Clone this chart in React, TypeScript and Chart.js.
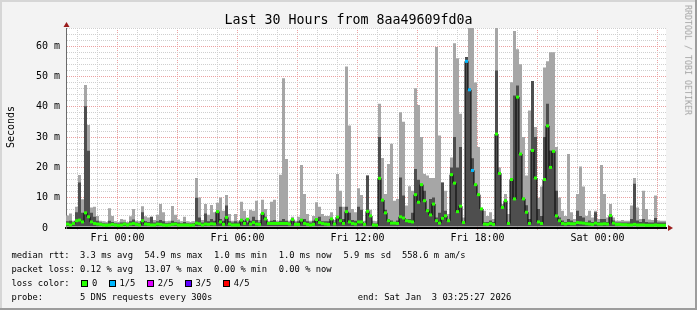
import React, { useEffect, useRef } from "react";
import { Chart, registerables } from "chart.js";

Chart.register(...registerables);

// ---------- text ----------
const TITLE = "Last 30 Hours from 8aa49609fd0a";
const Y_AXIS_TITLE = "Seconds";
const WATERMARK = "RRDTOOL / TOBI OETIKER";

// ---------- axes ----------
const X_TICK_HOURS = [0, 6, 12, 18, 24]; // hours after Fri 00:00
const X_TICK_LABELS = ["Fri 00:00", "Fri 06:00", "Fri 12:00", "Fri 18:00", "Sat 00:00"];
const Y_TICK_VALUES = [0, 10, 20, 30, 40, 50, 60];
const Y_TICK_LABELS = ["0  ", "10 m", "20 m", "30 m", "40 m", "50 m", "60 m"];
const RANGE_START_H = -2.576; // Thu 21:25:27
const RANGE_END_H = 27.424; // Sat 03:25:27
const BIN_H = 0.15; // 9 minutes per bin
const Y_MAX = 66; // ms

// ---------- data (ms), one value per 9-minute bin ----------
const MAX_RTT = [
  4.1, 4.8, 2.4, 7.0, 17.5, 9.5, 47.2, 34.0, 6.8, 7.0,
  4.0, 2.4, 2.2, 2.0, 6.5, 4.0, 2.2, 2.0, 3.0, 2.7,
  2.0, 3.9, 6.3, 2.4, 2.2, 7.2, 3.9, 3.5, 3.7, 2.6,
  4.4, 7.9, 5.2, 2.2, 2.4, 7.3, 4.4, 2.8, 2.2, 3.7,
  2.2, 2.0, 2.2, 16.5, 10.1, 2.6, 7.9, 4.4, 7.6, 5.2,
  8.3, 10.1, 5.7, 10.9, 4.6, 2.4, 4.6, 2.4, 8.7, 5.7,
  2.6, 6.0, 5.7, 9.0, 2.6, 9.3, 6.3, 2.4, 8.7, 9.3,
  2.4, 17.6, 49.4, 22.8, 2.4, 3.7, 2.4, 3.7, 20.8, 11.2,
  4.6, 2.4, 4.0, 8.5, 7.0, 4.6, 4.0, 4.0, 5.2, 2.6,
  17.8, 12.3, 7.0, 53.3, 33.8, 6.3, 5.2, 13.1, 10.9, 2.4,
  17.3, 6.0, 2.4, 2.2, 41.0, 23.1, 11.2, 21.1, 27.8, 9.0,
  9.6, 38.2, 35.1, 7.4, 13.8, 12.3, 46.1, 40.6, 30.0, 17.8,
  17.3, 16.5, 16.5, 59.7, 30.5, 15.0, 12.3, 4.6, 23.3, 61.0,
  56.0, 37.7, 3.5, 56.4, 67.0, 67.0, 48.0, 26.7, 6.3, 5.7,
  4.0, 5.2, 3.0, 67.0, 20.0, 7.9, 11.2, 4.6, 48.1, 65.0,
  59.0, 54.0, 30.0, 17.3, 38.8, 48.5, 33.3, 10.0, 13.7, 53.0,
  55.0, 58.0, 58.0, 26.7, 10.1, 5.7, 4.0, 24.4, 5.2, 3.0,
  11.2, 20.3, 13.7, 4.0, 5.7, 3.5, 5.7, 3.0, 20.8, 11.2,
  3.5, 7.9, 3.5, 2.4, 2.4, 2.6, 2.4, 2.4, 7.4, 16.5,
  6.8, 3.0, 12.3, 6.3, 2.8, 2.6, 10.7, 2.5, 2.4, 2.4,
];

const INNER_RTT = [
  2.2, 2.4, 1.8, 5.2, 15.0, 5.0, 40.2, 25.5, 5.0, 3.7,
  2.4, 1.8, 1.6, 1.5, 2.4, 2.0, 1.6, 1.5, 1.8, 1.8,
  1.5, 2.2, 2.8, 1.8, 1.6, 5.2, 2.2, 2.0, 3.7, 1.8,
  2.2, 2.6, 2.2, 1.6, 1.7, 2.4, 2.0, 1.8, 1.6, 2.0,
  1.6, 1.5, 1.6, 10.0, 3.5, 1.8, 4.8, 2.2, 3.0, 2.4,
  5.5, 3.0, 2.4, 7.4, 2.2, 1.8, 2.2, 1.8, 3.0, 2.4,
  1.8, 2.4, 3.7, 2.6, 1.8, 4.8, 3.7, 1.8, 2.4, 2.6,
  1.8, 2.4, 3.0, 2.4, 1.8, 3.0, 1.8, 2.2, 2.6, 3.0,
  2.2, 1.8, 2.4, 3.0, 3.7, 2.2, 2.2, 2.2, 3.0, 1.8,
  3.5, 7.0, 3.0, 7.0, 5.0, 2.6, 2.4, 7.0, 6.0, 1.5,
  17.3, 4.0, 1.5, 1.5, 30.0, 9.6, 6.0, 3.0, 2.5, 2.0,
  2.5, 16.7, 10.7, 3.0, 3.0, 5.0, 19.5, 15.9, 14.5, 12.3,
  6.3, 9.6, 10.1, 3.5, 5.0, 15.0, 5.7, 2.5, 20.0, 30.0,
  20.0, 26.7, 2.0, 56.4, 46.0, 23.0, 14.5, 11.2, 6.3, 2.0,
  2.0, 2.5, 2.0, 52.0, 18.4, 7.0, 9.0, 2.0, 16.0, 43.7,
  47.0, 24.4, 10.0, 7.5, 3.0, 48.5, 30.0, 6.3, 4.0, 30.0,
  41.0, 25.6, 25.6, 12.3, 3.5, 2.5, 2.0, 3.0, 2.5, 2.0,
  5.7, 4.0, 3.5, 2.0, 2.5, 2.0, 5.2, 2.0, 3.0, 3.0,
  2.0, 4.6, 2.5, 1.8, 1.8, 1.8, 1.8, 1.8, 3.0, 14.6,
  2.5, 2.0, 3.0, 2.0, 1.8, 1.8, 3.3, 1.8, 1.8, 1.8,
];

const MEDIAN_RTT = [
  1.3, 1.0, 1.5, 2.4, 2.6, 2.0, 5.0, 3.7, 2.0, 1.5,
  1.3, 1.2, 1.0, 0.9, 1.0, 1.2, 1.0, 0.8, 1.0, 1.3,
  1.0, 1.3, 1.5, 1.2, 1.0, 2.4, 1.3, 1.2, 1.0, 1.0,
  1.3, 1.2, 1.0, 0.9, 1.0, 1.2, 1.3, 1.0, 1.0, 1.0,
  1.0, 0.9, 1.0, 1.6, 1.4, 1.0, 1.3, 1.2, 1.4, 1.3,
  5.4, 2.0, 1.2, 3.5, 1.3, 1.0, 1.0, 1.0, 2.6, 1.5,
  2.9, 1.3, 1.8, 1.3, 1.2, 4.8, 3.0, 1.5, 1.5, 1.5,
  1.5, 1.5, 1.5, 1.5, 1.3, 2.8, 1.2, 1.2, 2.6, 1.5,
  1.2, 1.0, 1.2, 2.8, 1.8, 1.5, 1.3, 1.2, 3.0, 1.3,
  3.6, 2.4, 1.5, 5.4, 2.0, 1.5, 1.3, 2.0, 2.0, 1.2,
  5.5, 4.0, 1.0, 0.9, 16.4, 9.2, 5.0, 2.4, 1.6, 1.6,
  1.5, 3.7, 3.3, 2.4, 2.2, 2.0, 11.0, 8.5, 14.3, 9.0,
  5.7, 4.3, 7.9, 2.4, 1.6, 3.2, 4.0, 2.4, 17.6, 14.8,
  5.4, 7.2, 1.8, 55.0, 45.6, 19.0, 14.3, 11.0, 6.3, 1.3,
  1.2, 1.5, 1.2, 31.0, 18.0, 6.8, 9.0, 1.5, 16.0, 9.6,
  43.2, 24.4, 9.6, 5.2, 1.5, 25.6, 16.5, 2.0, 1.5, 16.0,
  33.7, 20.0, 25.3, 4.0, 2.4, 1.5, 1.3, 1.5, 1.4, 1.4,
  1.8, 1.7, 1.6, 1.4, 1.3, 1.2, 1.6, 1.3, 1.3, 1.4,
  1.3, 4.1, 1.6, 1.2, 1.2, 1.1, 1.1, 1.0, 1.0, 1.2,
  1.0, 1.0, 1.0, 0.9, 0.9, 0.9, 1.0, 0.9, 0.9, 0.9,
];

// bins where 1 of 5 pings was lost
const LOSS_1_OF_5_BINS = [133, 134, 135];

// ---------- legend ----------
const RTT_STATS = ["3.3 ms avg", "54.9 ms max", "1.0 ms min", "1.0 ms now", "5.9 ms sd", "558.6 m am/s"];
const LOSS_STATS = ["0.12 % avg", "13.07 % max", "0.00 % min", "0.00 % now"];
const LOSS_COLOR_LABELS = ["0", "1/5", "2/5", "3/5", "4/5"];
const LOSS_COLOR_VALUES = ["#26ff00", "#00b8ff", "#dd00ff", "#5e00ff", "#ff0000"];
const PROBE_TEXT = "5 DNS requests every 300s";
const END_TEXT = "end: Sat Jan  3 03:25:27 2026";

// ---------- style ----------
const FONT = "'DejaVu Sans Mono', monospace";
const SMOKE_OUTER = "#a6a6a6";
const SMOKE_INNER = "#4e4e4e";
const GRID_MINOR = "#cfcfcf";
const GRID_MAJOR = "#eba0a0";
const ARROW = "#9b1c1c";

const RTT_COLS = [11.4, 80, 144.4, 214, 278.7, 343.4, 402];
const SWATCH_X = [81, 109, 147, 185, 223];
const SWATCH_LABEL_X = [92, 119.4, 157.7, 195.4, 233.7];
const ROW_TOP = [250.6, 264.6, 278.6, 292.6];

const binStart = (i: number) => RANGE_START_H + i * BIN_H;
const steppedPoints = (arr: number[]) => {
  const pts = arr.map((v, i) => ({ x: binStart(i), y: v }));
  pts.push({ x: RANGE_END_H, y: arr[arr.length - 1] });
  return pts;
};

const decorPlugin = {
  id: "decor",
  beforeDraw(chart: any) {
    const { ctx, chartArea: a } = chart;
    ctx.save();
    ctx.fillStyle = "#ffffff";
    ctx.fillRect(a.left, a.top, a.right - a.left, a.bottom - a.top);
    ctx.restore();
  },
  afterDraw(chart: any) {
    const { ctx, chartArea: a } = chart;
    ctx.save();
    ctx.fillStyle = ARROW;
    // y axis arrow
    ctx.beginPath();
    ctx.moveTo(a.left + 0.5, a.top - 6);
    ctx.lineTo(a.left - 2.5, a.top - 1);
    ctx.lineTo(a.left + 3.5, a.top - 1);
    ctx.closePath();
    ctx.fill();
    // x axis arrow
    ctx.beginPath();
    ctx.moveTo(a.right + 7, a.bottom);
    ctx.lineTo(a.right + 2, a.bottom - 3);
    ctx.lineTo(a.right + 2, a.bottom + 3);
    ctx.closePath();
    ctx.fill();
    ctx.restore();
  },
};

function SmokeChart() {
  const ref = useRef<HTMLCanvasElement | null>(null);
  useEffect(() => {
    if (!ref.current) return;
    Chart.defaults.font.family = FONT;
    Chart.defaults.color = "#000";
    const markerColor = (ctx: any) =>
      LOSS_1_OF_5_BINS.includes(ctx.dataIndex) ? LOSS_COLOR_VALUES[1] : LOSS_COLOR_VALUES[0];
    const chart = new Chart(ref.current, {
      type: "line",
      data: {
        datasets: [
          {
            label: "median marker",
            data: MEDIAN_RTT.map((v, i) => ({ x: binStart(i) + BIN_H / 2, y: v })),
            showLine: false,
            pointStyle: "line",
            pointRadius: 1.5,
            pointHoverRadius: 1.5,
            pointBorderWidth: 3,
            pointBorderColor: markerColor,
            pointBackgroundColor: markerColor,
          } as any,
          {
            label: "median",
            data: steppedPoints(MEDIAN_RTT),
            stepped: "before",
            borderColor: "#000",
            borderWidth: 1,
            pointRadius: 0,
            fill: false,
          } as any,
          {
            label: "inner smoke",
            data: steppedPoints(INNER_RTT),
            stepped: "before",
            borderWidth: 0,
            borderColor: "rgba(0,0,0,0)",
            backgroundColor: SMOKE_INNER,
            pointRadius: 0,
            fill: { value: 0.6 },
          } as any,
          {
            label: "outer smoke",
            data: steppedPoints(MAX_RTT),
            stepped: "before",
            borderWidth: 0,
            borderColor: "rgba(0,0,0,0)",
            backgroundColor: SMOKE_OUTER,
            pointRadius: 0,
            fill: { value: 0.4 },
          } as any,
        ],
      },
      options: {
        animation: false,
        responsive: false,
        maintainAspectRatio: false,
        events: [],
        layout: { padding: { top: 28, right: 31, left: 0, bottom: 0 } },
        plugins: { legend: { display: false }, tooltip: { enabled: false }, title: { display: false } },
        scales: {
          x: {
            type: "linear",
            min: RANGE_START_H,
            max: RANGE_END_H,
            afterBuildTicks: (s: any) => {
              const t = [];
              for (let h = Math.ceil(RANGE_START_H); h <= RANGE_END_H; h++) t.push({ value: h });
              s.ticks = t;
            },
            afterFit: (s: any) => {
              s.height = 82;
            },
            ticks: {
              autoSkip: false,
              maxRotation: 0,
              padding: 2,
              font: { size: 10 },
              color: "#000",
              callback: (v: any) => {
                const k = X_TICK_HOURS.indexOf(v);
                return k >= 0 ? X_TICK_LABELS[k] : "";
              },
            },
            grid: {
              color: (c: any) => (c.tick && c.tick.value % 3 === 0 ? GRID_MAJOR : GRID_MINOR),
              lineWidth: 1,
              drawTicks: true,
              tickLength: 2,
            },
            border: { display: true, color: "#000", width: 2, dash: [1, 1] },
          },
          y: {
            type: "linear",
            min: 0,
            max: Y_MAX,
            afterBuildTicks: (s: any) => {
              const t = [];
              for (let v = 0; v <= Y_MAX; v += 2) t.push({ value: v });
              s.ticks = t;
            },
            afterFit: (s: any) => {
              s.width = 66;
            },
            ticks: {
              autoSkip: false,
              padding: 6,
              font: { size: 10 },
              color: "#000",
              callback: (v: any) => {
                const k = Y_TICK_VALUES.indexOf(v);
                return k >= 0 ? Y_TICK_LABELS[k] : "";
              },
            },
            grid: {
              color: (c: any) => (c.tick && c.tick.value % 10 === 0 ? GRID_MAJOR : GRID_MINOR),
              lineWidth: 1,
              drawTicks: false,
            },
            border: { display: true, color: "#6a6a6a", width: 1, dash: [1, 1] },
          },
        },
      } as any,
      plugins: [decorPlugin],
    });
    return () => chart.destroy();
  }, []);
  return <canvas ref={ref} width={697} height={310} style={{ position: "absolute", left: 0, top: 0 }} />;
}

const textStyle = (left: number, top: number, size = 8.8): React.CSSProperties => ({
  position: "absolute",
  left,
  top,
  fontFamily: FONT,
  fontSize: size,
  lineHeight: 1,
  whiteSpace: "pre",
  color: "#000",
});

export default function App() {
  useEffect(() => {
    document.body.style.margin = "0";
  }, []);
  return (
    <div
      style={{
        position: "absolute",
        left: 0,
        top: 0,
        width: 697,
        height: 310,
        overflow: "hidden",
        background: "#f3f3f3",
      }}
    >
      <SmokeChart />
      {/* frame */}
      <div style={{ position: "absolute", left: 0, top: 0, width: 697, height: 2, background: "#d6d6d6" }} />
      <div style={{ position: "absolute", left: 0, top: 0, width: 2, height: 310, background: "#d6d6d6" }} />
      <div style={{ position: "absolute", right: 0, top: 0, width: 2, height: 310, background: "#9c9c9c" }} />
      <div style={{ position: "absolute", left: 0, bottom: 0, width: 697, height: 2, background: "#9c9c9c" }} />

      <div style={{ ...textStyle(0, 12.75, 13.3), width: 697, textAlign: "center" }}>{TITLE}</div>
      <div
        style={{
          ...textStyle(11, 126.5, 10),
          transform: "translate(-50%, -50%) rotate(-90deg)",
        }}
      >
        {Y_AXIS_TITLE}
      </div>
      <div
        style={{
          ...textStyle(688, 60, 8.3),
          color: "#a3a3a3",
          transform: "translate(-50%, -50%) rotate(90deg)",
        }}
      >
        {WATERMARK}
      </div>

      {/* legend row 1 */}
      <div style={textStyle(RTT_COLS[0], ROW_TOP[0])}>median rtt:</div>
      {RTT_STATS.map((s, i) => (
        <div key={"r" + i} style={textStyle(RTT_COLS[i + 1], ROW_TOP[0])}>
          {s}
        </div>
      ))}
      {/* legend row 2 */}
      <div style={textStyle(RTT_COLS[0], ROW_TOP[1])}>packet loss:</div>
      {LOSS_STATS.map((s, i) => (
        <div key={"l" + i} style={textStyle(RTT_COLS[i + 1], ROW_TOP[1])}>
          {s}
        </div>
      ))}
      {/* legend row 3 */}
      <div style={textStyle(RTT_COLS[0], ROW_TOP[2])}>loss color:</div>
      {LOSS_COLOR_LABELS.map((s, i) => (
        <React.Fragment key={"c" + i}>
          <div
            style={{
              position: "absolute",
              left: SWATCH_X[i],
              top: 279.5,
              width: 7,
              height: 7,
              boxSizing: "border-box",
              border: "1px solid #000",
              background: LOSS_COLOR_VALUES[i],
            }}
          />
          <div style={textStyle(SWATCH_LABEL_X[i], ROW_TOP[2])}>{s}</div>
        </React.Fragment>
      ))}
      {/* legend row 4 */}
      <div style={textStyle(RTT_COLS[0], ROW_TOP[3])}>probe:</div>
      <div style={textStyle(RTT_COLS[1], ROW_TOP[3])}>{PROBE_TEXT}</div>
      <div style={textStyle(357.7, ROW_TOP[3])}>{END_TEXT}</div>
    </div>
  );
}
